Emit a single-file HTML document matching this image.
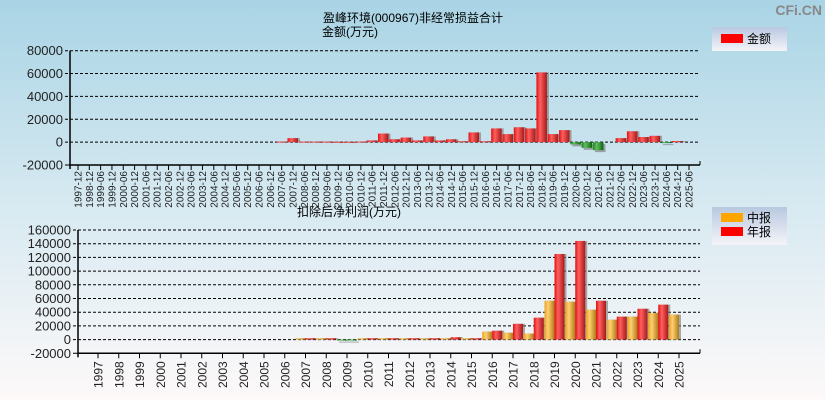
<!DOCTYPE html>
<html><head><meta charset="utf-8"><style>
html,body{margin:0;padding:0;width:825px;height:400px;overflow:hidden}
svg{display:block;font-family:"Liberation Sans","Noto Sans CJK SC",sans-serif}
</style></head><body>
<svg id="c" width="825" height="400" xmlns="http://www.w3.org/2000/svg">
<defs>
<linearGradient id="bg" x1="0" y1="0" x2="0" y2="1"><stop offset="0" stop-color="#a9d4e5"/><stop offset="0.5" stop-color="#d6e9f1"/><stop offset="1" stop-color="#fdf9f9"/></linearGradient>
<linearGradient id="gr" x1="0" y1="0" x2="1" y2="0"><stop offset="0" stop-color="#e01010"/><stop offset="0.35" stop-color="#ff6060"/><stop offset="1" stop-color="#a81818"/></linearGradient>
<linearGradient id="go" x1="0" y1="0" x2="1" y2="0"><stop offset="0" stop-color="#e8a020"/><stop offset="0.35" stop-color="#ffd070"/><stop offset="1" stop-color="#b07a18"/></linearGradient>
<linearGradient id="gg" x1="0" y1="0" x2="1" y2="0"><stop offset="0" stop-color="#1a8a1a"/><stop offset="0.35" stop-color="#60c060"/><stop offset="1" stop-color="#106010"/></linearGradient>
<linearGradient id="lg" x1="0" y1="0" x2="0" y2="1"><stop offset="0" stop-color="#b8c8e0"/><stop offset="1" stop-color="#f4f4f8"/></linearGradient>
</defs>
<rect width="825" height="400" fill="url(#bg)"/>
<text x="822" y="15" font-size="14" font-weight="bold" fill="#888" text-anchor="end">CFi.CN</text>
<text x="323" y="22" font-size="12" fill="#000">盈峰环境(000967)非经常损益合计</text>
<text x="322" y="36" font-size="12" fill="#000">金额(万元)</text>
<text x="297" y="216" font-size="12" fill="#000">扣除后净利润(万元)</text>
<g>
<rect x="712" y="27" width="75" height="24" fill="url(#lg)"/>
<rect x="721" y="34" width="22" height="9" fill="#f00"/>
<text x="747" y="43" font-size="12">金额</text>
</g>
<g>
<rect x="712" y="207" width="75" height="38" fill="url(#lg)"/>
<rect x="721" y="213" width="22" height="9" fill="#ffa500"/>
<text x="747" y="222" font-size="12">中报</text>
<rect x="721" y="227" width="22" height="9" fill="#f00"/>
<text x="747" y="236" font-size="12">年报</text>
</g>
<g id="top"></g><g id="bot"></g>
</svg>
<script>
const topCats=["1997-12","1998-12","1999-06","1999-12","2000-06","2000-12","2001-06","2001-12","2002-06","2002-12","2003-06","2003-12","2004-06","2004-12","2005-06","2005-12","2006-06","2006-12","2007-06","2007-12","2008-06","2008-12","2009-06","2009-12","2010-06","2010-12","2011-06","2011-12","2012-06","2012-12","2013-06","2013-12","2014-06","2014-12","2015-06","2015-12","2016-06","2016-12","2017-06","2017-12","2018-06","2018-12","2019-06","2019-12","2020-06","2020-12","2021-06","2021-12","2022-06","2022-12","2023-06","2023-12","2024-06","2024-12","2025-06"];
const topVals=[null,null,null,null,null,null,null,null,null,null,null,null,null,null,null,null,null,null,500,3500,500,500,500,300,300,500,1500,7500,2500,4000,1500,5000,1500,2500,800,8500,800,12000,7000,13000,12000,61000,7000,10500,-2000,-5000,-7000,0,3500,9500,4500,5500,-500,1000,0];
const topTicks=[80000,60000,40000,20000,0,-20000];
const botCats=["1997","1998","1999","2000","2001","2002","2003","2004","2005","2006","2007","2008","2009","2010","2011","2012","2013","2014","2015","2016","2017","2018","2019","2020","2021","2022","2023","2024","2025"];
const interimVals=[null,null,null,null,null,null,null,null,null,null,2000,2000,-1000,2000,2000,2000,2000,2000,2000,11600,10000,8700,56700,55300,43600,29000,33500,39000,36400];
const annualVals=[null,null,null,null,null,null,null,null,null,null,2000,2000,-1000,2000,2000,2000,2000,3500,2000,13000,23000,32000,125000,144000,56700,33500,45000,51000,null];
const botTicks=[160000,140000,120000,100000,80000,60000,40000,20000,0,-20000];
const NS="http://www.w3.org/2000/svg";
function mk(p,t,a){const e=document.createElementNS(NS,t);for(const k in a)e.setAttribute(k,a[k]);p.appendChild(e);return e;}
function axes(g,ax,x1,yMax,yMin,vMax,vMin,ticks,name){
  const y=v=>yMax+(vMax-v)/(vMax-vMin)*(yMin-yMax);
  ticks.forEach(t=>{
    const l=mk(g,'line',{x1:ax-5,x2:x1,y1:y(t),y2:y(t),stroke:'#000','stroke-width':1,'stroke-dasharray':t===vMin?'':'3,2'});
    
    
    const tx=mk(g,'text',{x:ax-7,y:y(t)+4.5,'font-size':13,'text-anchor':'end',fill:'#222'});
    tx.textContent=t;
    
    
  });
  const a=mk(g,'line',{x1:ax,x2:ax,y1:yMax,y2:yMin+4,stroke:'#000','stroke-width':1.5});
  
  
  const e=mk(g,'line',{x1:x1,x2:x1,y1:yMin-4,y2:yMin,stroke:'#000'});
  
  
  return y;
}
function bar(g,x,w,y0,yv,v,fill,name){
  const neg=v<0;const top=Math.min(y0,yv),h=Math.max(Math.abs(yv-y0),1);
  const s=mk(g,'rect',{x:x+2,y:top+(neg?2:0),width:w,height:h,fill:'#777',opacity:0.6});
  
  
  const r=mk(g,'rect',{x:x,y:top,width:w,height:h,fill:neg?'url(#gg)':fill});
  
  
}
(function(){
  const g=document.getElementById('top');
  const ax=70,x1=700,yMax=50.7,yMin=165;
  const y=axes(g,ax,x1,yMax,yMin,80000,-20000,topTicks,'top');
  const x0=78,dx=(689-78)/(topCats.length-1);
  topCats.forEach((c,i)=>{
    const cx=x0+i*dx;
    const t=mk(g,'line',{x1:cx,x2:cx,y1:yMin,y2:yMin+5,stroke:'#000'});
    
    
    const tx=mk(g,'text',{x:0,y:0,'font-size':10,'text-anchor':'end',fill:'#222',transform:`translate(${cx+3.5},${yMin+6}) rotate(-90)`});
    tx.textContent=c;
    
    
    const v=topVals[i];
    if(v!==null&&v!==0) bar(g,cx-5.5,10.5,y(0),y(v),v,'url(#gr)','bar-amount-'+c);
  });
  const xl=mk(g,'line',{x1:ax,x2:x1,y1:yMin,y2:yMin,stroke:'#000','stroke-width':1.5});
  
  
})();
(function(){
  const g=document.getElementById('bot');
  const ax=78,x1=700,yMax=230,yMin=353.3;
  const y=axes(g,ax,x1,yMax,yMin,160000,-20000,botTicks,'bottom');
  const x0=98,dx=(679-98)/(botCats.length-1);
  botCats.forEach((c,i)=>{
    const cx=x0+i*dx;
    const t=mk(g,'line',{x1:cx,x2:cx,y1:yMin,y2:yMin+5,stroke:'#000'});
    
    
    const tx=mk(g,'text',{x:0,y:0,'font-size':12,'text-anchor':'end',fill:'#222',transform:`translate(${cx+4.5},${yMin+8}) rotate(-90)`});
    tx.textContent=c;
    
    
    const a=interimVals[i],b=annualVals[i];
    if(a!==null&&a!==0) bar(g,cx-10,10,y(0),y(a),a,'url(#go)','bar-interim-'+c);
    if(b!==null&&b!==0) bar(g,cx,10,y(0),y(b),b,'url(#gr)','bar-annual-'+c);
  });
  const xl=mk(g,'line',{x1:ax,x2:x1,y1:yMin,y2:yMin,stroke:'#000','stroke-width':1.5});
  
  
})();
</script>
</body></html>
